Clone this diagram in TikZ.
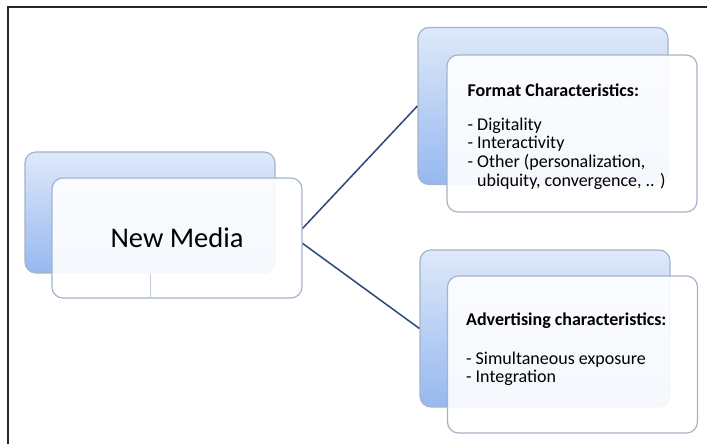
\documentclass[tikz,border=0pt]{standalone}
\usepackage{fontspec}
\setmainfont{Carlito}
\usepackage{xcolor}
\usepackage{tikz}
\usetikzlibrary{positioning, calc}

\definecolor{backtop}{RGB}{222,233,250}
\definecolor{backbot}{RGB}{150,184,240}
\definecolor{boxline}{RGB}{165,180,200}
\definecolor{linkblue}{RGB}{44,72,120}

\begin{document}
\begin{tikzpicture}[x=1pt, y=1pt,
  back/.style={draw=boxline, line width=1.2pt, rounded corners=11pt,
               top color=backtop, bottom color=backbot,
               minimum width=250pt, minimum height=157pt, inner sep=0pt},
  front/.style={draw=boxline, line width=1.2pt, rounded corners=11pt,
                fill=white, fill opacity=0.9, text opacity=1,
                minimum width=250pt, minimum height=157pt, inner sep=0pt},
  txt/.style={align=left, inner sep=0pt, font=\fontsize{18}{18.8}\selectfont},
  link/.style={draw=linkblue, line width=1.5pt}]
\useasboundingbox (0,0) rectangle (707,444);
\fill[white] (0,0) rectangle (707,444);
\draw[line width=2pt, black!85] (7.5,0) -- (7.5,436.5) -- (707,436.5);

\node[back, minimum height=121pt] (nmback) at (150,231.5) {};
\node[back] (fmtback) at (543,338) {};
\node[back] (advback) at (545,115.5) {};

\draw[link] (302,215) coordinate (nmup) -- (fmtback.west);
\draw[link] (302,201) coordinate (nmdown) -- (advback.west);

\node[front, minimum height=120pt, font=\fontsize{28.5}{30}\selectfont] (nmfront) at (177,206) {New Media};
\draw[boxline!70, line width=0.6pt] (nmback.south) -- (nmback.south |- nmfront.south);

\node[front] (fmtfront) at (572,310.5) {};
\node[txt, anchor=north west] (fmttxt) at ([shift={(21pt,-29pt)}]fmtfront.north west)
  {\textbf{Format Characteristics:}\\[15pt]
   - Digitality\\
   - Interactivity\\
   - Other (personalization,\\
   \phantom{- }ubiquity, convergence, .. )};

\node[front] (advfront) at (572.5,89.5) {};
\node[txt, anchor=north west] (advtxt) at ([shift={(19pt,-37pt)}]advfront.north west)
  {\textbf{Advertising characteristics:}\\[20pt]
   - Simultaneous exposure\\
   - Integration};
\end{tikzpicture}
\end{document}
